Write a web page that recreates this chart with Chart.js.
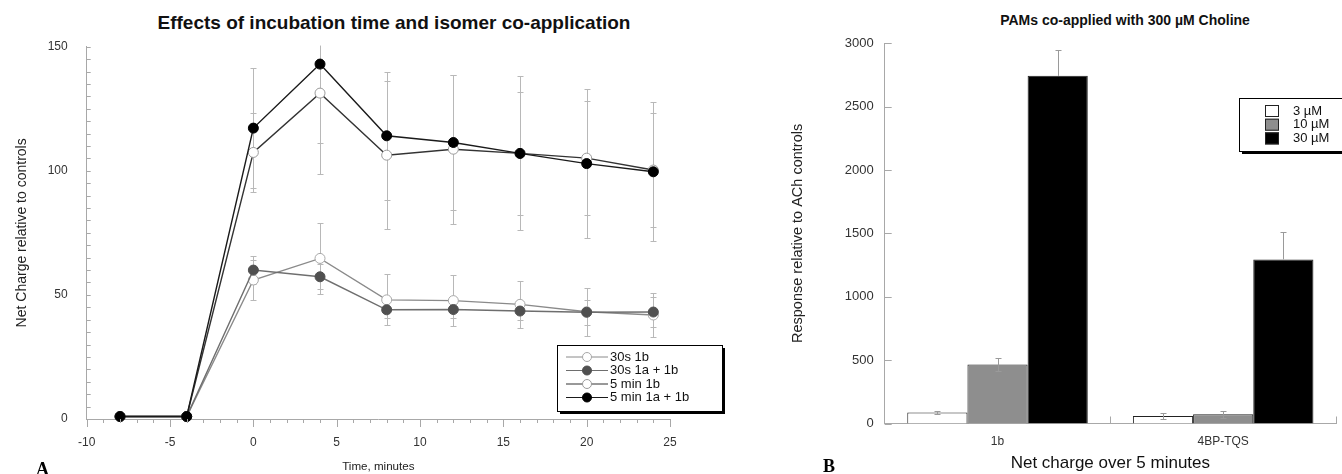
<!DOCTYPE html>
<html>
<head>
<meta charset="utf-8">
<script src="https://cdn.jsdelivr.net/npm/chart.js@4.4.1/dist/chart.umd.min.js"></script>
<style>
  body { margin: 0; background: #fff; width: 1342px; height: 474px; position: relative; overflow: hidden;
         font-family: "Liberation Sans", Arial, sans-serif; }
  .wrap { position: absolute; top: 0; }
  #wrapA { left: 0; width: 740px; height: 474px; }
  #wrapB { left: 680px; width: 662px; height: 474px; }
  .title { position: absolute; font-weight: bold; white-space: nowrap; transform: translateX(-50%); color: #111; }
  .panel { position: absolute; font-family: "Liberation Serif", "DejaVu Serif", serif; font-weight: bold;
           font-size: 18px; line-height: 18px; color: #000; }
</style>
</head>
<body>
<div class="title" style="left:394px;top:12px;font-size:19px;line-height:22px">Effects of incubation time and isomer co-application</div>
<div class="title" style="left:1125px;top:11px;font-size:14px;line-height:18px">PAMs co-applied with 300 µM Choline</div>
<div class="wrap" id="wrapA"><canvas id="chartA" width="740" height="474"></canvas></div>
<div class="wrap" id="wrapB"><canvas id="chartB" width="662" height="474"></canvas></div>
<div class="panel" style="left:36px;top:460px">A</div>
<div class="panel" style="left:823px;top:457px">B</div>

<script>
// ---- Panel A data (time course) ----
const times = [-8, -4, 0, 4, 8, 12, 16, 20, 24];
const s30_1b       = [1, 1, 56, 64.7, 48, 47.7, 46.2, 43.2, 41.9];
const s30_1b_err   = [0, 0, 8, 14.2, 10.3, 10.2, 9.5, 9.6, 9];
const s30_1a1b     = [1, 1, 60, 57.3, 44, 44.1, 43.5, 43, 43.1];
const s30_1a1b_err = [0, 0, 5.7, 5, 3.5, 3.5, 3.8, 5, 6];
const s5_1b        = [1, 1, 107.4, 131.3, 106.3, 108.7, 107, 105.1, 100.3];
const s5_1b_err    = [0, 0, 16, 32.6, 29.8, 30, 24.7, 23, 23];
const s5_1a1b      = [1, 1, 117.2, 143, 114.1, 111.4, 107, 102.9, 99.6];
const s5_1a1b_err  = [0, 0, 24.3, 31.6, 25.8, 27, 31, 30, 28];

// ---- Panel B data (bars) ----
const categories = ['1b', '4BP-TQS'];
const doseLabels = ['3 µM', '10 µM', '30 µM'];
const resp3  = [87, 60];
const err3   = [10, 25];
const resp10 = [466, 73];
const err10  = [50, 27];
const resp30 = [2743, 1295];
const err30  = [205, 218];

Chart.defaults.font.family = "'Liberation Sans', Arial, sans-serif";
Chart.defaults.color = '#333';

const AXIS = '#a8a8a8';

function toXY(ys) { return times.map((t, i) => ({ x: t, y: ys[i] })); }

// error bars drawn with the chart's own y scale
function drawErrors(chart, o) {
  const ctx = chart.ctx, ys = chart.scales.y, a = chart.chartArea;
  ctx.save();
  ctx.beginPath();
  ctx.rect(a.left, a.top - 1, a.right - a.left, a.bottom - a.top + 2);
  ctx.clip();
  ctx.strokeStyle = o.color;
  ctx.lineWidth = 1;
  chart.data.datasets.forEach((ds, i) => {
    const meta = chart.getDatasetMeta(i);
    meta.data.forEach((el, j) => {
      const e = ds.errors[j];
      if (!e) return;
      const raw = ds.data[j];
      const v = typeof raw === 'object' ? raw.y : raw;
      const x = Math.round(el.x) + 0.5;
      const top = Math.round(ys.getPixelForValue(v + e)) + 0.5;
      const bot = Math.round(ys.getPixelForValue(v - e)) + 0.5;
      ctx.beginPath();
      ctx.moveTo(x, top);
      ctx.lineTo(x, ds.errUpOnly ? el.y : bot);
      ctx.moveTo(x - o.cap, top); ctx.lineTo(x + o.cap, top);
      if (!ds.errUpOnly) { ctx.moveTo(x - o.cap, bot); ctx.lineTo(x + o.cap, bot); }
      ctx.stroke();
    });
  });
  ctx.restore();
}
const errorBars = {
  id: 'errorBars',
  beforeDatasetsDraw(chart, args, o) { if (!o.after) drawErrors(chart, o); },
  afterDatasetsDraw(chart, args, o) { if (o.after) drawErrors(chart, o); }
};

// small tick marks along the axes
const tickMarks = {
  id: 'tickMarks',
  afterDraw(chart, args, o) {
    const ctx = chart.ctx;
    ctx.save();
    ctx.strokeStyle = AXIS;
    ctx.lineWidth = 1;
    ctx.beginPath();
    (o.axes || []).forEach(a => {
      const sc = chart.scales[a.id];
      let pts = [];
      if (a.category) {
        const n = sc.ticks.length, w = (sc.right - sc.left) / n;
        for (let k = 1; k <= n; k++) pts.push({ p: sc.left + k * w, len: a.majorLen });
      } else {
        const n = Math.round((sc.max - sc.min) / a.step);
        for (let k = 0; k <= n; k++) {
          const v = sc.min + k * a.step;
          const major = Math.round(v / a.step) % a.every === 0;
          pts.push({ p: sc.getPixelForValue(v), len: major ? a.majorLen : a.minorLen });
        }
      }
      pts.forEach(t => {
        const p = Math.round(t.p) + 0.5;
        if (sc.isHorizontal()) {
          ctx.moveTo(p, sc.top); ctx.lineTo(p, sc.top + a.dir * t.len);
        } else {
          ctx.moveTo(sc.right, p); ctx.lineTo(sc.right + a.dir * t.len, p);
        }
      });
    });
    ctx.stroke();
    ctx.restore();
  }
};

// boxed legend with drop shadow, drawn from the datasets
const boxLegend = {
  id: 'boxLegend',
  afterDraw(chart, args, o) {
    const ctx = chart.ctx;
    ctx.save();
    ctx.fillStyle = '#000';
    ctx.fillRect(o.x + o.shadow, o.y + o.shadow, o.w, o.h);
    ctx.fillStyle = '#fff';
    ctx.fillRect(o.x, o.y, o.w, o.h);
    ctx.strokeStyle = '#000';
    ctx.lineWidth = 1;
    ctx.strokeRect(o.x + 0.5, o.y + 0.5, o.w, o.h);
    ctx.font = o.font;
    ctx.textBaseline = 'middle';
    chart.data.datasets.forEach((ds, i) => {
      const yy = o.y + o.firstRow + i * o.rowGap;
      if (o.kind === 'line') {
        ctx.strokeStyle = ds.borderColor;
        ctx.lineWidth = 1;
        ctx.beginPath();
        ctx.moveTo(o.x + o.lineFrom, yy); ctx.lineTo(o.x + o.lineTo, yy);
        ctx.stroke();
        ctx.beginPath();
        ctx.arc(o.x + (o.lineFrom + o.lineTo) / 2, yy, 4.5, 0, Math.PI * 2);
        ctx.fillStyle = ds.pointBackgroundColor;
        ctx.fill();
        ctx.strokeStyle = ds.pointBorderColor;
        ctx.stroke();
      } else {
        ctx.fillStyle = ds.backgroundColor;
        ctx.fillRect(o.x + o.sqX, yy - o.sqH / 2, o.sqW, o.sqH);
        ctx.strokeStyle = '#222';
        ctx.strokeRect(o.x + o.sqX + 0.5, yy - o.sqH / 2 + 0.5, o.sqW - 1, o.sqH - 1);
      }
      ctx.fillStyle = '#111';
      ctx.fillText(ds.label, o.x + o.textX, yy);
    });
    ctx.restore();
  }
};

// ---------------- Panel A ----------------
function lineSet(label, ys, errs, line, fill, edge, order) {
  return {
    label: label, data: toXY(ys), errors: errs, order: order,
    borderColor: line, borderWidth: 1.4,
    pointRadius: 5, pointBackgroundColor: fill, pointBorderColor: edge, pointBorderWidth: 1,
    tension: 0, clip: false
  };
}

new Chart(document.getElementById('chartA'), {
  type: 'line',
  data: {
    datasets: [
      lineSet('30s 1b', s30_1b, s30_1b_err, '#8a8a8a', '#ffffff', '#a8a8a8', 4),
      lineSet('30s 1a + 1b', s30_1a1b, s30_1a1b_err, '#6e6e6e', '#505050', '#505050', 3),
      lineSet('5 min 1b', s5_1b, s5_1b_err, '#333333', '#ffffff', '#9a9a9a', 2),
      lineSet('5 min 1a + 1b', s5_1a1b, s5_1a1b_err, '#1a1a1a', '#000000', '#000000', 1)
    ]
  },
  options: {
    responsive: false,
    animation: false,
    layout: { padding: { left: 0, right: 70, top: 46.7, bottom: 0 } },
    plugins: {
      legend: { display: false },
      tooltip: { enabled: false },
      errorBars: { color: '#b8b8b8', cap: 3, after: false },
      tickMarks: { axes: [
        { id: 'x', step: 1, every: 5, majorLen: 8, minorLen: 4, dir: 1 },
        { id: 'y', step: 5, every: 10, majorLen: 4, minorLen: 4, dir: 1 }
      ] },
      boxLegend: { kind: 'line', x: 557, y: 345, w: 165, h: 66, shadow: 3,
                   firstRow: 12, rowGap: 13.5, lineFrom: 9, lineTo: 51, textX: 53,
                   font: "13px 'Liberation Sans', Arial, sans-serif" }
    },
    scales: {
      x: {
        type: 'linear', min: -10, max: 25,
        grid: { display: false, drawTicks: false },
        border: { color: AXIS },
        ticks: { stepSize: 5, padding: 16, font: { size: 12 }, color: '#333' },
        title: { display: true, text: 'Time, minutes', font: { size: 11.6 }, color: '#222', padding: 0 },
        afterFit(s) { s.height = 55; }
      },
      y: {
        min: 0, max: 150,
        grid: { display: false, drawTicks: false },
        border: { color: AXIS },
        ticks: { stepSize: 50, padding: 19, font: { size: 12 }, color: '#333' },
        title: { display: true, text: 'Net Charge relative to controls', font: { size: 14 }, color: '#222',
                 padding: { top: 13.6, bottom: 0 } },
        afterFit(s) { s.width = 86.7; }
      }
    }
  },
  plugins: [errorBars, tickMarks, boxLegend]
});

// ---------------- Panel B ----------------
function barSet(label, vals, errs, color, upOnly) {
  return {
    label: label, data: vals, errors: errs, errUpOnly: upOnly,
    backgroundColor: color, borderColor: '#222', borderWidth: 1,
    categoryPercentage: 0.8, barPercentage: 1.0
  };
}

new Chart(document.getElementById('chartB'), {
  type: 'bar',
  data: {
    labels: categories,
    datasets: [
      barSet(doseLabels[0], resp3, err3, '#ffffff', false),
      barSet(doseLabels[1], resp10, err10, '#8e8e8e', false),
      barSet(doseLabels[2], resp30, err30, '#000000', true)
    ]
  },
  options: {
    responsive: false,
    animation: false,
    layout: { padding: { left: 100, right: 6, top: 43.3, bottom: 0 } },
    plugins: {
      legend: { display: false },
      tooltip: { enabled: false },
      errorBars: { color: '#9a9a9a', cap: 3, after: true },
      tickMarks: { axes: [
        { id: 'x', category: true, majorLen: 7, dir: -1 },
        { id: 'y', step: 500, every: 1, majorLen: 7, minorLen: 7, dir: 1 }
      ] },
      boxLegend: { kind: 'box', x: 559, y: 98, w: 120, h: 53, shadow: 3,
                   firstRow: 13, rowGap: 13.7, sqX: 26, sqW: 14, sqH: 12, textX: 54,
                   font: "13px 'Liberation Sans', Arial, sans-serif" }
    },
    scales: {
      x: {
        type: 'category',
        grid: { display: false, drawTicks: false },
        border: { color: AXIS },
        ticks: { padding: 11, font: { size: 12 }, color: '#333' },
        title: { display: true, text: 'Net charge over 5 minutes', font: { size: 17 }, color: '#111', padding: 0 },
        afterFit(s) { s.height = 50.5; }
      },
      y: {
        min: 0, max: 3000,
        grid: { display: false, drawTicks: false },
        border: { color: AXIS },
        ticks: { stepSize: 500, padding: 11, font: { size: 13 }, color: '#333',
                 callback: v => String(v) },
        title: { display: true, text: 'Response relative to ACh controls', font: { size: 14.5 }, color: '#222',
                 padding: { top: 9.3, bottom: 0 } },
        afterFit(s) { s.width = 104.7; }
      }
    }
  },
  plugins: [errorBars, tickMarks, boxLegend]
});
</script>
</body>
</html>
